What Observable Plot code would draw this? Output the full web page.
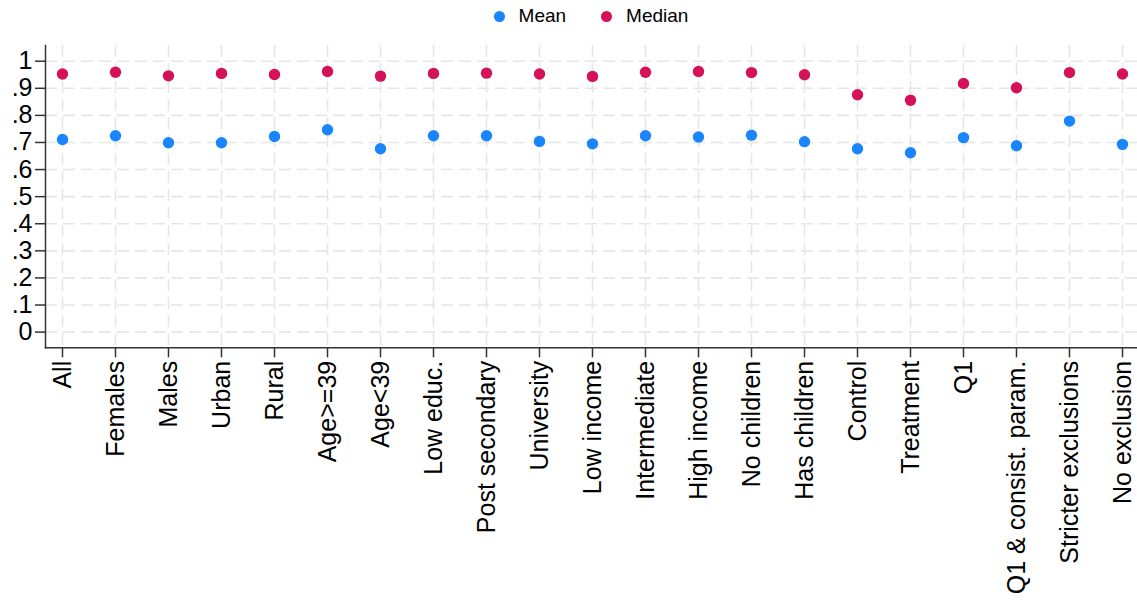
<!DOCTYPE html>
<html><head><meta charset="utf-8">
<script src="https://cdn.jsdelivr.net/npm/d3@7"></script>
<script src="https://cdn.jsdelivr.net/npm/@observablehq/plot@0.6"></script>
<style>
body{margin:0;background:#fff;font-family:"Liberation Sans",Arial,sans-serif;}
#legend{margin-left:45px;width:1092px;height:32px;display:flex;justify-content:center;align-items:center;font-size:19px;color:#000;}
.item{display:flex;align-items:center;}
.item + .item{margin-left:35px;}
.dot{width:11px;height:11px;border-radius:50%;margin-right:14px;}
#chart svg{display:block;}
</style></head><body>
<div id="legend"></div><div id="chart"></div>
<script>
const categories = ["All","Females","Males","Urban","Rural","Age>=39","Age<39","Low educ.","Post secondary","University","Low income","Intermediate","High income","No children","Has children","Control","Treatment","Q1","Q1 & consist. param.","Stricter exclusions","No exclusion"];
const meanValues = [0.711,0.725,0.699,0.699,0.722,0.747,0.677,0.725,0.725,0.704,0.695,0.725,0.720,0.727,0.703,0.677,0.662,0.718,0.688,0.779,0.693];
const medianValues = [0.953,0.959,0.946,0.955,0.951,0.962,0.945,0.955,0.956,0.953,0.944,0.959,0.962,0.958,0.950,0.876,0.856,0.918,0.902,0.958,0.953];
const yTicks = [0,0.1,0.2,0.3,0.4,0.5,0.6,0.7,0.8,0.9,1];
const seriesNames = ["Mean","Median"];
const seriesColors = ["#1a85ff","#d41159"];

const rows = [];
categories.forEach((c,i)=>{
  rows.push({category:c, series:"Mean", value:meanValues[i]});
  rows.push({category:c, series:"Median", value:medianValues[i]});
});

const fmt = d => d === 0 ? "0" : d === 1 ? "1" : d3.format(".1f")(d).slice(1);
const gridStyle = {stroke:"#e6e6e6", strokeOpacity:1, strokeWidth:1.6, strokeDasharray:"12,6"};

const plot = Plot.plot({
  width:1137, height:572,
  marginLeft:45, marginRight:0, marginTop:13, marginBottom:256.7,
  style:{fontFamily:"'Liberation Sans', Arial, sans-serif", fontSize:"25px", color:"#000", background:"#fff", overflow:"visible"},
  x:{type:"point", domain:categories, range:[60.7,1122.7], padding:0},
  y:{domain:[-0.058,1.058]},
  color:{domain:seriesNames, range:seriesColors},
  marks:[
    Plot.gridY(yTicks, gridStyle),
    Plot.gridX(categories, gridStyle),
    Plot.axisY(yTicks, {tickSize:10, tickPadding:3, tickFormat:fmt, stroke:"#333", strokeWidth:1.5, fill:"#000", fontSize:25, label:null}),
    Plot.axisX(categories, {tickSize:10, tickPadding:3, tickRotate:-90, stroke:"#333", strokeWidth:1.5, fill:"#000", fontSize:25, label:null}),
    Plot.frame({anchor:"left", stroke:"#333", strokeWidth:1.5}),
    Plot.frame({anchor:"bottom", stroke:"#333", strokeWidth:1.5}),
    Plot.dot(rows, {x:"category", y:"value", fill:"series", r:5.7})
  ]
});
document.getElementById("chart").appendChild(plot);

const legend = d3.select("#legend");
seriesNames.forEach((n,i)=>{
  const it = legend.append("div").attr("class","item");
  it.append("span").attr("class","dot").style("background", seriesColors[i]);
  it.append("span").text(n);
});
</script>
</body></html>
